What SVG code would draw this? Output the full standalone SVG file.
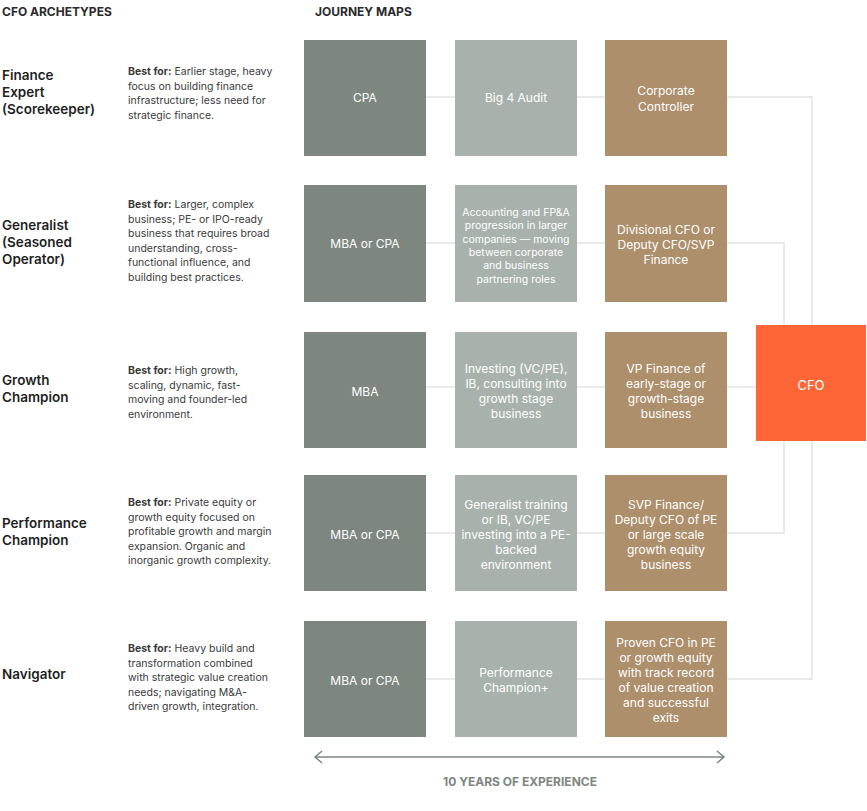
<svg xmlns="http://www.w3.org/2000/svg" width="867" height="811" viewBox="0 0 867 811">
<style>
text{font-family:"Inter","Liberation Sans",sans-serif}
.h{font-size:12px;font-weight:700;fill:#2b2b2b}
.t{font-size:13.5px;font-weight:600;fill:#1f1f1f}
.b{font-size:10.5px;fill:#3a3a3a}
.b tspan.k{font-weight:700}
.c1{fill:#7e8680}.c2{fill:#a9b1ac}.c3{fill:#ad8f6c}
.l{font-size:12px;fill:#fff;text-anchor:middle}
.s{font-size:10.5px;fill:#fff;text-anchor:middle}
.cn{fill:none;stroke:#e3e4e3;stroke-width:1.5}
</style>
<rect width="867" height="811" fill="#fff"/>
<text class="h" x="2" y="16">CFO ARCHETYPES</text>
<text class="h" x="315" y="16">JOURNEY MAPS</text>
<g id="connectors">
<path class="cn" d="M304 97H812V325"/>
<path class="cn" d="M304 243H784V325"/>
<path class="cn" d="M304 387H756"/>
<path class="cn" d="M304 533H784V441"/>
<path class="cn" d="M304 679H812V441"/>
</g>
<g id="archetypes">
<text class="t" x="2" y="80">Finance<tspan x="2" dy="17">Expert</tspan><tspan x="2" dy="17">(Scorekeeper)</tspan></text>
<text class="b" x="128" y="75"><tspan class="k">Best for:</tspan> Earlier stage, heavy<tspan x="128" dy="14.5">focus on building finance</tspan><tspan x="128" dy="14.5">infrastructure; less need for</tspan><tspan x="128" dy="14.5">strategic finance.</tspan></text>
<text class="t" x="2" y="230">Generalist<tspan x="2" dy="17">(Seasoned</tspan><tspan x="2" dy="17">Operator)</tspan></text>
<text class="b" x="128" y="208"><tspan class="k">Best for:</tspan> Larger, complex<tspan x="128" dy="14.5">business; PE- or IPO-ready</tspan><tspan x="128" dy="14.5">business that requires broad</tspan><tspan x="128" dy="14.5">understanding, cross-</tspan><tspan x="128" dy="14.5">functional influence, and</tspan><tspan x="128" dy="14.5">building best practices.</tspan></text>
<text class="t" x="2" y="385">Growth<tspan x="2" dy="17">Champion</tspan></text>
<text class="b" x="128" y="374"><tspan class="k">Best for:</tspan> High growth,<tspan x="128" dy="14.5">scaling, dynamic, fast-</tspan><tspan x="128" dy="14.5">moving and founder-led</tspan><tspan x="128" dy="14.5">environment.</tspan></text>
<text class="t" x="2" y="528">Performance<tspan x="2" dy="17">Champion</tspan></text>
<text class="b" x="128" y="506"><tspan class="k">Best for:</tspan> Private equity or<tspan x="128" dy="14.5">growth equity focused on</tspan><tspan x="128" dy="14.5">profitable growth and margin</tspan><tspan x="128" dy="14.5">expansion. Organic and</tspan><tspan x="128" dy="14.5">inorganic growth complexity.</tspan></text>
<text class="t" x="2" y="679">Navigator</text>
<text class="b" x="128" y="652"><tspan class="k">Best for:</tspan> Heavy build and<tspan x="128" dy="14.5">transformation combined</tspan><tspan x="128" dy="14.5">with strategic value creation</tspan><tspan x="128" dy="14.5">needs; navigating M&amp;A-</tspan><tspan x="128" dy="14.5">driven growth, integration.</tspan></text>
</g>
<g id="n1a"><rect class="c1" x="304" y="40" width="122" height="116"/><text class="l" x="365" y="102">CPA</text></g>
<g id="n1b"><rect class="c2" x="455" y="40" width="122" height="116"/><text class="l" x="516" y="102">Big 4 Audit</text></g>
<g id="n1c"><rect class="c3" x="605" y="40" width="122" height="116"/><text class="l" x="666" y="95">Corporate<tspan x="666" dy="16">Controller</tspan></text></g>
<g id="n2a"><rect class="c1" x="304" y="185" width="122" height="117"/><text class="l" x="365" y="248">MBA or CPA</text></g>
<g id="n2b"><rect class="c2" x="455" y="185" width="122" height="117"/><text class="s" x="516" y="216">Accounting and FP&amp;A<tspan x="516" dy="13.3">progression in larger</tspan><tspan x="516" dy="13.3">companies — moving</tspan><tspan x="516" dy="13.3">between corporate</tspan><tspan x="516" dy="13.3">and business</tspan><tspan x="516" dy="13.3">partnering roles</tspan></text></g>
<g id="n2c"><rect class="c3" x="605" y="185" width="122" height="117"/><text class="l" x="666" y="234">Divisional CFO or<tspan x="666" dy="15">Deputy CFO/SVP</tspan><tspan x="666" dy="15">Finance</tspan></text></g>
<g id="n3a"><rect class="c1" x="304" y="332" width="122" height="116"/><text class="l" x="365" y="396">MBA</text></g>
<g id="n3b"><rect class="c2" x="455" y="332" width="122" height="116"/><text class="l" x="516" y="373">Investing (VC/PE),<tspan x="516" dy="15">IB, consulting into</tspan><tspan x="516" dy="15">growth stage</tspan><tspan x="516" dy="15">business</tspan></text></g>
<g id="n3c"><rect class="c3" x="605" y="332" width="122" height="116"/><text class="l" x="666" y="373">VP Finance of<tspan x="666" dy="15">early-stage or</tspan><tspan x="666" dy="15">growth-stage</tspan><tspan x="666" dy="15">business</tspan></text></g>
<g id="n4a"><rect class="c1" x="304" y="475" width="122" height="116"/><text class="l" x="365" y="539">MBA or CPA</text></g>
<g id="n4b"><rect class="c2" x="455" y="475" width="122" height="116"/><text class="l" x="516" y="509">Generalist training<tspan x="516" dy="15">or IB, VC/PE</tspan><tspan x="516" dy="15">investing into a PE-</tspan><tspan x="516" dy="15">backed</tspan><tspan x="516" dy="15">environment</tspan></text></g>
<g id="n4c"><rect class="c3" x="605" y="475" width="122" height="116"/><text class="l" x="666" y="509">SVP Finance/<tspan x="666" dy="15">Deputy CFO of PE</tspan><tspan x="666" dy="15">or large scale</tspan><tspan x="666" dy="15">growth equity</tspan><tspan x="666" dy="15">business</tspan></text></g>
<g id="n5a"><rect class="c1" x="304" y="621" width="122" height="116"/><text class="l" x="365" y="685">MBA or CPA</text></g>
<g id="n5b"><rect class="c2" x="455" y="621" width="122" height="116"/><text class="l" x="516" y="677">Performance<tspan x="516" dy="15">Champion+</tspan></text></g>
<g id="n5c"><rect class="c3" x="605" y="621" width="122" height="116"/><text class="l" x="666" y="647">Proven CFO in PE<tspan x="666" dy="15">or growth equity</tspan><tspan x="666" dy="15">with track record</tspan><tspan x="666" dy="15">of value creation</tspan><tspan x="666" dy="15">and successful</tspan><tspan x="666" dy="15">exits</tspan></text></g>
<g id="cfo"><rect x="756" y="325" width="110" height="116" fill="#ff6637"/><text class="l" x="811" y="390" style="font-size:13px">CFO</text></g>
<g id="timeline">
<path d="M315 757H724M322 751L315 757L322 763M717 751L724 757L717 763" fill="none" stroke="#7e8680" stroke-width="1.5"/>
<text x="520" y="786" text-anchor="middle" style="font-size:12px;font-weight:700;fill:#7e8680">10 YEARS OF EXPERIENCE</text>
</g>
</svg>
